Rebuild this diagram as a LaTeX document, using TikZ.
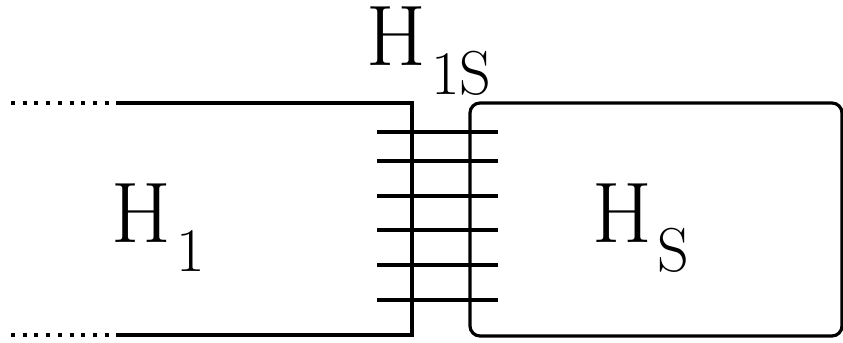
\documentclass[tikz,border=0pt]{standalone}
\usepackage{tikz}

\newcommand{\hlabel}[1]{H\kern2.5pt\raisebox{-14.5pt}{\fontsize{31}{31}\selectfont #1}}

\begin{document}
\begin{tikzpicture}[x=0.5pt,y=-0.5pt,line width=1.6pt,
   edge/.style={draw,line cap=butt},
   dots/.style={draw,dash pattern=on 2pt off 3.85pt},
   lbl/.style={inner sep=0pt,anchor=base west,font=\fontsize{43}{43}\selectfont}]
\useasboundingbox (0,0) rectangle (843,343);
% left system, open to the left
\coordinate (ltopend) at (11,103);
\coordinate (ltop) at (120,103);
\coordinate (lne) at (412,103);
\coordinate (lse) at (412,335);
\coordinate (lbot) at (120,335);
\coordinate (lbotend) at (11,335);
\draw[dots] (ltopend) -- (ltop);
\draw[dots] (lbotend) -- (lbot);
\draw[edge] (ltop) -- (lne) -- (lse) -- (lbot);
% right system
\draw[edge,rounded corners=5pt] (470,103) rectangle (842,336);
% coupling lines
\foreach \y/\n in %
{132/a,161/b,196/c,230/d,265/e,300/f} {
   \coordinate (cpl\n) at (377,\y);
   \coordinate (cpr\n) at (498,\y);
   \draw[edge] (cpl\n) -- (cpr\n);
}
% labels
\node[lbl] (hone) at (110,242) {\hlabel{1}};
\node[lbl] (hs) at (591,242) {\hlabel{S}};
\node[lbl] (hones) at (365,65) {\hlabel{1S}};
\end{tikzpicture}
\end{document}
